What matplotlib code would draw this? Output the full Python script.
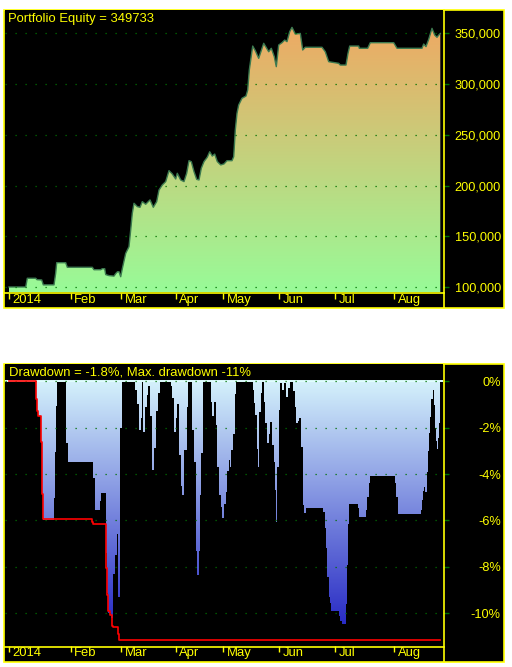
import numpy as np
import matplotlib
matplotlib.use('Agg')
import matplotlib.pyplot as plt
from matplotlib.colors import LinearSegmentedColormap
from matplotlib.patches import Rectangle
from matplotlib.lines import Line2D
from matplotlib.ticker import FuncFormatter
from matplotlib.transforms import ScaledTranslation

plt.rcParams['font.family'] = ['Liberation Sans', 'DejaVu Sans']

# ---- data (x = bar position on the chart) ----
eq_bar = [9, 25.7, 27.3, 35.7, 37, 41.7, 43.3, 54, 55.7, 56.7, 65.7, 67.3, 92.3, 94, 100.7,
          102.3, 104.7, 105.7, 109, 114, 115.7, 117.5, 119, 120.7, 122.3, 125.7, 129, 130.7,
          132.3, 134, 137.3, 140, 142.3, 145.7, 150, 153.3, 156.7, 159, 162.3, 165.7, 169,
          172.3, 175.7, 177.3, 180.7, 184, 186.7, 189, 191.3, 194, 196.7, 199, 201.3, 204,
          207.3, 209.7, 212.3, 214.7, 217.3, 220.7, 224, 227, 232, 233.7, 235.3, 237, 238.7,
          242, 246, 247.7, 249.3, 252.7, 255.3, 258.7, 263.7, 268.7, 271.3, 274.3, 276.3,
          278.7, 282, 284.7, 287, 289.7, 292, 295.3, 300.3, 302.7, 305.3, 322, 325.3, 328.7,
          338.7, 340.3, 346, 348, 349.7, 358.7, 359.3, 367.7, 370.3, 393.7, 397, 422, 423.7,
          426, 428.7, 432, 434.7, 437, 438.7, 440.3]
eq_val = [100300, 100300, 108900, 108900, 107500, 107200, 102400, 102400, 114000, 124200,
          124200, 119700, 119700, 117300, 117300, 118300, 118300, 112500, 111500, 111000,
          113500, 115300, 115300, 110400, 118300, 133400, 140000, 156400, 172800, 182700,
          179400, 178700, 184300, 181700, 186000, 178700, 184300, 195700, 200700, 204000,
          214800, 211500, 206600, 212200, 205600, 204000, 212200, 224600, 223600, 213800,
          206200, 205600, 217100, 223700, 228000, 233400, 229100, 231100, 223700, 220400,
          221400, 224600, 224600, 228500, 254800, 271200, 279400, 286000, 288200, 294100,
          313800, 337400, 332800, 325300, 340100, 331800, 335200, 326900, 317100, 338400,
          340700, 343300, 341700, 351500, 355800, 349200, 349800, 333500, 336200, 336200,
          331800, 322000, 320400, 318700, 318700, 330200, 337400, 337400, 335200, 335200,
          340700, 340700, 335200, 335200, 339400, 336800, 344000, 354800, 348200, 346000,
          348200, 349733]

dd_bar = [9, 35.7, 36.3, 37.3, 38.3, 40.7, 41.7, 42.7, 43.3, 54, 55, 56.3, 57.3, 65.7, 68,
          93, 94.7, 100, 101.3, 105.7, 107.3, 108.3, 110.7, 112.7, 115, 116.7, 118.3, 120,
          122.3, 135, 136.7, 139, 140.7, 141.7, 143.3, 144.7, 146.7, 148.3, 150, 152.3, 154,
          156, 158, 159.7, 170.7, 172.3, 174, 175.7, 177.3, 178.7, 180.7, 182.3, 184, 186.7,
          188.3, 192.3, 194, 195.7, 197.3, 198.7, 200, 201.3, 203, 210.7, 212.3, 214, 215.7,
          217.3, 219, 220.7, 222.3, 224.3, 226, 227, 228.7, 229.7, 231.3, 233, 234.7,
          236, 253, 254.3, 255.3, 256.7, 258, 259.3, 261, 262, 263.7, 265.3, 267, 268.7,
          270.3, 272, 273.7, 274.7, 276, 277, 278.7, 280.3, 282, 283.7, 286, 288, 289.7,
          292.7, 294.7, 296, 298, 299.3, 301.3, 302.7, 304.3, 306, 323, 324.7, 326, 327.3,
          328.7, 329.7, 331, 338.7, 340.3, 342, 346, 347, 348, 349, 358, 359.3, 366, 367.3,
          369, 370, 395, 396.3, 397.7, 421, 422, 423, 424.3, 425.3, 427, 428, 429.3, 430.3,
          431.3, 432.7, 433.7, 434.7, 435.7, 437, 438.3, 439.3, 440.3]
dd_val = [0, -0.26, -0.77, -1.29, -1.52, -2.61, -4.86, -5.95, -6.0, -5.05, -3.04, -1.07, 0,
          -2.68, -3.5, -4.19, -5.55, -5.16, -4.82, -7.4, -9.1, -10.0, -10.2, -8.3, -7.5,
          -6.6, -9.3, -2.0, 0, -0.39, -1.0, -2.1, -1.6, 0, -2.2, -1.1, -0.6, -0.2,
          -1.5, -3.83, -2.9, -1.3, -0.5, 0, -0.2, -0.75, -2.2, -1.6, -1.0, -3.2, -4.5, -4.9,
          -2.96, -1.1, 0, -2.1, -3.47, -7.3, -8.34, -7.3, -4.9, -3.1, 0, -0.9, -1.5, -0.9,
          -1.9, -3.7, -4.9, -5.4, -5.9, -5.3, -4.76, -3.87, -3.4, -3.7, -2.97,
          -2.3, -0.56, 0, -0.39, -0.96, -1.46, -2.92, -3.68, -1.32, -0.53, 0, -0.9, -1.82,
          -2.68, -2.3, -1.75, -2.75, -3.47, -4.69, -6.06, -3.7, -1.25, -0.1, -0.4, -0.1,
          -0.67, -0.3, 0, -0.43, -1.1, -1.8, -1.7, -1.58, -2.82, -5.33, -5.69, -5.47, -5.65,
          -6.33, -7.17, -8.42, -9.28, -9.56, -9.89, -10.1, -10.32, -10.47, -9.6, -7.9, -6.17,
          -5.27, -5.45, -5.84, -5.55, -4.97, -4.4, -4.09, -4.4, -4.97, -5.74, -5.55, -5.12,
          -4.73, -4.55, -4.76, -3.9, -3.0, -2.25, -1.53, -0.77, -0.39, -1.03, -2.0, -2.6,
          -2.92, -2.47, -1.8, -1.8]

mdd_bar = [9, 35.7, 36.3, 37.3, 38.3, 41.3, 42.3, 43.3, 92.3, 93, 105.7, 106.3, 107.3, 108.3,
           110, 111.7, 113.3, 118.3, 119.3, 120.7, 440.3]
mdd_val = [0, -0.26, -0.77, -1.29, -1.52, -2.61, -4.86, -5.95, -6.05, -6.17, -6.77, -8.03,
           -9.2, -9.88, -10.06, -10.54, -10.6, -10.9, -11.14, -11.14, -11.14]

month_pos = [9.3, 70.7, 121.3, 175.7, 223.3, 279.3, 335.3, 394.3]
month_lbl = ['2014', 'Feb', 'Mar', 'Apr', 'May', 'Jun', 'Jul', 'Aug']
eq_ticks = [100000, 150000, 200000, 250000, 300000, 350000]
dd_ticks = [0, -2, -4, -6, -8, -10]

# ---- layout (pixel boxes, origin top-left) ----
W, H = 512, 667
fig = plt.figure(figsize=(W / 100, H / 100), dpi=100, facecolor='white')
YEL = '#ffff00'
GRID = '#007000'


def fbox(x0, y0, x1, y1):
    return [x0 / W, 1 - y1 / H, (x1 - x0) / W, (y1 - y0) / H]


def frame(y_top, y_axis, y_bot):
    fig.patches.append(Rectangle((4 / W, 1 - y_bot / H), 500 / W, (y_bot - y_top) / H,
                                 transform=fig.transFigure, facecolor='black',
                                 edgecolor=YEL, lw=1.2, zorder=-1))
    fig.lines.append(Line2D([4 / W, 443.5 / W], [1 - y_axis / H] * 2, transform=fig.transFigure,
                            color=YEL, lw=1.2, zorder=10))
    fig.lines.append(Line2D([443.5 / W] * 2, [1 - y_top / H, 1 - y_bot / H],
                            transform=fig.transFigure, color=YEL, lw=1.2, zorder=10))


def style_axes(ax, ticks, fmt):
    ax.set_facecolor('black')
    for s in ax.spines.values():
        s.set_visible(False)
    ax.set_xlim(5, 442.5)
    ax.set_yticks(ticks)
    ax.yaxis.set_major_formatter(FuncFormatter(fmt))
    ax.yaxis.tick_right()
    ax.tick_params(axis='y', colors=GRID, labelcolor=YEL, length=4, width=1, pad=38,
                   labelsize=9.2)
    for t in ax.get_yticklabels():
        t.set_horizontalalignment('right')
    ax.grid(axis='y', color=GRID, linestyle=(0, (1, 7)), lw=0.9)
    ax.set_axisbelow(False)
    ax.set_xticks(month_pos)
    ax.set_xticklabels(month_lbl)
    ax.tick_params(axis='x', colors=YEL, labelcolor=YEL, length=4, width=1, pad=-3,
                   labelsize=9.4)
    off = ScaledTranslation(3.5 / 100, 0, fig.dpi_scale_trans)
    for t in ax.get_xticklabels():
        t.set_horizontalalignment('left')
        t.set_transform(t.get_transform() + off)


def gradient_fill(ax, x, y1, y2, colors, ylim, step=None):
    poly = ax.fill_between(x, y1, y2, color='none', step=step)
    cmap = LinearSegmentedColormap.from_list('g', colors)
    img = ax.imshow(np.linspace(0, 1, 256).reshape(-1, 1), cmap=cmap, origin='lower',
                    extent=[5, 442.5, ylim[0], ylim[1]], aspect='auto', zorder=1)
    img.set_clip_path(poly.get_paths()[0], transform=ax.transData)


# ---- equity panel ----
frame(9.7, 293, 308)
ax1 = fig.add_axes(fbox(5, 10.3, 442.5, 292.5))
eq_lim = (94880, 372570)
gradient_fill(ax1, eq_bar, eq_val, eq_lim[0], ['#98fb98', '#f4a460'], eq_lim)
ax1.plot(eq_bar, eq_val, color='#3c7a50', lw=1, zorder=2)
ax1.set_ylim(*eq_lim)
style_axes(ax1, eq_ticks, lambda v, p: f'{v:,.0f}')
ax1.set_xlim(5, 442.5)
fig.text(8 / W, 1 - 21.7 / H, 'Portfolio Equity = 349733', color=YEL, fontsize=9.4,
         va='baseline', ha='left')

# ---- drawdown panel ----
frame(363.8, 646.5, 662)
ax2 = fig.add_axes(fbox(5, 364.3, 442.5, 646))
dd_lim = (-11.40, 0.72)
gradient_fill(ax2, dd_bar, 0, dd_val, ['#1a1ac0', '#e0ffff'], dd_lim, step='post')
ax2.axhline(0, color='#e0ffff', lw=1.4, zorder=1.5)
ax2.plot(mdd_bar, mdd_val, drawstyle='steps-post', color='#ff0000', lw=1.2, zorder=3)
ax2.set_ylim(*dd_lim)
style_axes(ax2, dd_ticks, lambda v, p: f'{v:.0f}%')
ax2.set_xlim(5, 442.5)
fig.text(9 / W, 1 - 375.5 / H, 'Drawdown = -1.8%, Max. drawdown -11%', color=YEL,
         fontsize=9.4, va='baseline', ha='left')

fig.savefig('out.png', dpi=100, facecolor='white')
